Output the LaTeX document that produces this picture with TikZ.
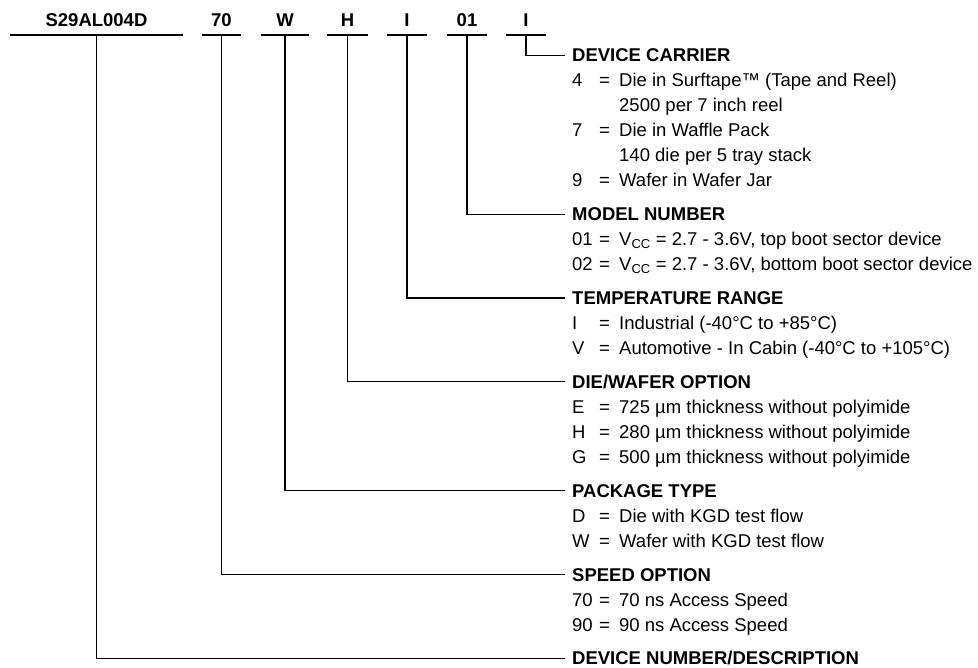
\documentclass[tikz,border=0pt]{standalone}
\usepackage{fontspec}
\setmainfont{Liberation Sans}
\usetikzlibrary{positioning,calc}
\newcommand{\codeline}[2]{\makebox[27pt][l]{#1}\makebox[20pt][l]{=}#2}
\newcommand{\codecont}[1]{\hspace*{47pt}#1}

\begin{document}
\begin{tikzpicture}[
      x=1pt, y=-1pt,
      field/.style={anchor=south, font=\fontsize{18.5}{22}\selectfont\bfseries,
        inner xsep=0pt, inner ysep=8pt, text height=13.3pt, text depth=0pt, minimum width=#1},
      title/.style={anchor=base west, font=\fontsize{18.5}{22}\selectfont\bfseries,
        inner xsep=7pt, inner ysep=0pt, text height=13.3pt, text depth=0pt},
      opt/.style={anchor=base west, font=\fontsize{18.5}{22}\selectfont, inner sep=0pt},
      fieldbar/.style={line width=1.5pt},
      lead/.style={line width=1.2pt},
    ]
    \useasboundingbox (0,0) rectangle (978,668);

    % ordering code fields
    \node[field=173pt] (pn) at (96.5,35) {S29AL004D};
    \node[field=39pt] (spd) at (221.5,35) {70};
    \node[field=48pt] (pkg) at (285,35) {W};
    \node[field=41pt] (die) at (347.5,35) {H};
    \node[field=40pt] (tmp) at (407,35) {I};
    \node[field=40pt] (mdl) at (467,35) {01};
    \node[field=40pt] (car) at (526,35) {I};
    \foreach \f in {pn,spd,pkg,die,tmp,mdl,car}
      \draw[fieldbar] (\f.south west) -- (\f.south east);

    % option groups
    \node[title] (hcar) at (565,62) {DEVICE CARRIER};
    \node[opt] (car1) at ([xshift=7pt,yshift=-25pt]hcar.base west) {\codeline{4}{Die in Surftape™ (Tape and Reel)}};
    \node[opt] (car2) at ([yshift=-25pt]car1.base west) {\codecont{2500 per 7 inch reel}};
    \node[opt] (car3) at ([yshift=-25pt]car2.base west) {\codeline{7}{Die in Waffle Pack}};
    \node[opt] (car4) at ([yshift=-25pt]car3.base west) {\codecont{140 die per 5 tray stack}};
    \node[opt] (car5) at ([yshift=-25pt]car4.base west) {\codeline{9}{Wafer in Wafer Jar}};

    \node[title] (hmdl) at ([xshift=-7pt,yshift=-33.8pt]car5.base west) {MODEL NUMBER};
    \node[opt] (mdl1) at ([xshift=7pt,yshift=-25pt]hmdl.base west) {\codeline{01}{V\textsubscript{CC} = 2.7 - 3.6V, top boot sector device}};
    \node[opt] (mdl2) at ([yshift=-25pt]mdl1.base west) {\codeline{02}{V\textsubscript{CC} = 2.7 - 3.6V, bottom boot sector device}};

    \node[title] (htmp) at ([xshift=-7pt,yshift=-33.8pt]mdl2.base west) {TEMPERATURE RANGE};
    \node[opt] (tmp1) at ([xshift=7pt,yshift=-25pt]htmp.base west) {\codeline{I}{Industrial (-40°C to +85°C)}};
    \node[opt] (tmp2) at ([yshift=-25pt]tmp1.base west) {\codeline{V}{Automotive - In Cabin (-40°C to +105°C)}};

    \node[title] (hdie) at ([xshift=-7pt,yshift=-33.8pt]tmp2.base west) {DIE/WAFER OPTION};
    \node[opt] (die1) at ([xshift=7pt,yshift=-25pt]hdie.base west) {\codeline{E}{725 µm thickness without polyimide}};
    \node[opt] (die2) at ([yshift=-25pt]die1.base west) {\codeline{H}{280 µm thickness without polyimide}};
    \node[opt] (die3) at ([yshift=-25pt]die2.base west) {\codeline{G}{500 µm thickness without polyimide}};

    \node[title] (hpkg) at ([xshift=-7pt,yshift=-33.8pt]die3.base west) {PACKAGE TYPE};
    \node[opt] (pkg1) at ([xshift=7pt,yshift=-25pt]hpkg.base west) {\codeline{D}{Die with KGD test flow}};
    \node[opt] (pkg2) at ([yshift=-25pt]pkg1.base west) {\codeline{W}{Wafer with KGD test flow}};

    \node[title] (hspd) at ([xshift=-7pt,yshift=-33.8pt]pkg2.base west) {SPEED OPTION};
    \node[opt] (spd1) at ([xshift=7pt,yshift=-25pt]hspd.base west) {\codeline{70}{70 ns Access Speed}};
    \node[opt] (spd2) at ([yshift=-25pt]spd1.base west) {\codeline{90}{90 ns Access Speed}};

    \node[title] (hpn) at ([xshift=-7pt,yshift=-33.8pt]spd2.base west) {DEVICE NUMBER/DESCRIPTION};

    % leaders
    \draw[lead] (car.south) |- (hcar.west);
    \draw[lead] (mdl.south) |- (hmdl.west);
    \draw[lead] (tmp.south) |- (htmp.west);
    \draw[lead] (die.south) |- (hdie.west);
    \draw[lead] (pkg.south) |- (hpkg.west);
    \draw[lead] (spd.south) |- (hspd.west);
    \draw[lead] (pn.south) |- (hpn.west);
  \end{tikzpicture}
\end{document}
